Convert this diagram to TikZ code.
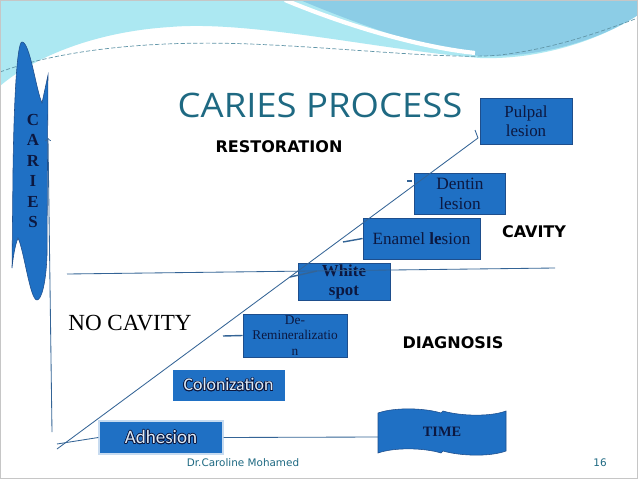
\documentclass[tikz,border=0pt]{standalone}
\usepackage{fontspec}
\setmainfont{Liberation Serif}
\newfontfamily\titlefont[FakeStretch=1.08]{Open Sans}
\newfontfamily\verdfont{DejaVu Sans}
\newfontfamily\calfont{Carlito}
\usepackage{xcolor}
\usepackage[copies]{contour}
\usetikzlibrary{calc}
\usetikzlibrary{positioning}

\definecolor{boxblue}{RGB}{31,112,196}
\definecolor{boxedge}{RGB}{30,78,140}
\definecolor{navy}{RGB}{12,24,64}
\definecolor{linecol}{RGB}{52,100,150}
\definecolor{titleteal}{RGB}{30,105,130}
\definecolor{cyanwash}{RGB}{172,232,242}
\definecolor{bluewash}{RGB}{140,205,230}

\tikzset{
	stagebox/.style={draw=boxedge,fill=boxblue,line width=0.6pt,text=navy,align=center,inner sep=0pt},
	lbl/.style={font=\verdfont\bfseries\fontsize{11.4}{13}\selectfont},
	conn/.style={draw=linecol,line width=0.6pt}
}
\contourlength{0.5pt}

\begin{document}
\begin{tikzpicture}[x=0.025cm,y=-0.025cm]
	\useasboundingbox (0,0) rectangle (638,479);
	\fill[white] (0,0) rectangle (638,479);
	\fill[cyanwash] (0,0) -- (638,0) -- (638,15) .. controls (600,40) and (540,60) .. (480,58) .. controls (380,50) and (250,20) .. (170,27) .. controls (90,32) and (30,60) .. (0,86) -- cycle;
	\fill[bluewash] (300,0) .. controls (360,25) and (430,50) .. (480,56) .. controls (540,58) and (600,40) .. (638,15) -- (638,0) -- cycle;
	\draw[white,line width=3pt] (285,0) .. controls (350,27) and (420,47) .. (475,53);
	\draw[titleteal!70,dash pattern=on 3pt off 1.5pt,line width=0.5pt] (0,72) .. controls (60,50) and (150,40) .. (250,44) .. controls (350,48) and (450,60) .. (500,55) .. controls (560,48) and (610,28) .. (638,18);
	\draw[gray!45,line width=1.2pt] (0.5,0.5) rectangle (637.5,478.5);

	\filldraw[fill=boxblue,draw=boxedge,line width=0.4pt] (22,42) .. controls (30,42) and (36,90) .. (42,103) -- (48,75) -- (47,255) .. controls (46,285) and (41,300) .. (37,300) .. controls (30,300) and (24,250) .. (18,238) .. controls (15,245) and (13,258) .. (12,268) -- (13,170) .. controls (14,100) and (17,42) .. (22,42) -- cycle;
	\node[font=\bfseries\fontsize{12}{14.6}\selectfont,text=navy,align=center] (caries) at (33,171) {C\\A\\R\\I\\E\\S};

	\coordinate (axb) at (52,432);
	\coordinate (axt) at (48,138);
	\draw[conn,->] (axb) -- (axt);

	\node[font=\titlefont\fontsize{24}{28}\selectfont,text=titleteal] (title) at (320,105) {CARIES PROCESS};

	\node[stagebox,minimum width=2.3cm,minimum height=1.15cm,font=\fontsize{12}{13.8}\selectfont] (pulpal) at (526,121) {Pulpal\\lesion};
	\node[stagebox,minimum width=2.275cm,minimum height=1.025cm,font=\fontsize{12.3}{13.8}\selectfont] (dentin) at (460,194) {Dentin\\lesion};
	\node[stagebox,minimum width=2.925cm,minimum height=1.025cm,font=\fontsize{12.2}{13.8}\selectfont] (enamel) at (421.5,238.5) {Enamel \textbf{le}sion};
	\node[stagebox,minimum width=2.3cm,minimum height=0.925cm,font=\bfseries\fontsize{12}{13.5}\selectfont] (white) at (344,281.5) {White\\spot};
	\node[stagebox,minimum width=2.6cm,minimum height=1.075cm,font=\fontsize{9.5}{11}\selectfont] (deremin) at (295,335.5) {De-\\Remineralizatio\\n};
	\node[stagebox,draw=boxblue,minimum width=2.775cm,minimum height=0.75cm,font=\calfont\fontsize{12.7}{14}\selectfont] (colon) at (228.5,385) {\contour{navy}{\textcolor{boxblue!15!white}{Colonization}}};
	\node[stagebox,draw=white!75!boxblue,line width=1pt,minimum width=3.1cm,minimum height=0.825cm,font=\calfont\fontsize{13.5}{15}\selectfont] (adhesion) at (161,437.5) {\contour{navy}{\textcolor{boxblue!15!white}{Adhesion}}};

	\filldraw[fill=boxblue,draw=boxedge,line width=0.4pt] (378,413) .. controls (395,407) and (425,408) .. (441,413) -- (443,411) .. controls (460,416) and (490,417) .. (506,411) -- (506,451) .. controls (490,457) and (460,456) .. (443,451) -- (441,453) .. controls (425,448) and (395,447) .. (378,453) -- cycle;
	\node[font=\bfseries\fontsize{10.2}{12}\selectfont,text=navy] (time) at (442,432) {TIME};

	\node[lbl] (restor) at (279,147) {RESTORATION};
	\node[lbl] (cavity) at (534,232) {CAVITY};
	\node[lbl] (diag) at (453,343) {DIAGNOSIS};
	\node[font=\fontsize{16.4}{18}\selectfont] (nocav) at (130,323) {NO CAVITY};
	\node[font=\verdfont\fontsize{7.4}{9}\selectfont,text=titleteal] (author) at (243,463) {Dr.Caroline Mohamed};
	\node[font=\verdfont\fontsize{7.4}{9}\selectfont,text=titleteal] (pnum) at (600,463) {16};

	\coordinate (d0) at (57,449);
	\coordinate (d1) at (478,138);
	\draw[conn] (d0) -- (d1);
	\coordinate (b0) at (57,444);
	\coordinate (t0) at (378,437);
	\draw[conn] (b0) -- (adhesion.west);
	\draw[conn] (adhesion.east) -- (t0);
	\coordinate (m0) at (67,274);
	\coordinate (m1) at (555,268);
	\draw[conn] (m0) -- (m1);

	\coordinate (ec) at (343,242);
	\draw[conn,line width=1pt] (ec) -- (enamel.west);
	\coordinate (dc0) at (407,181);
	\coordinate (dc1) at (412,181);
	\draw[conn,line width=1pt] (dc0) -- (dc1);
	\coordinate (pc0) at (475,130);
	\draw[conn] (pc0) -- (d1);
	\coordinate (rc) at (223,336);
	\draw[conn,line width=1pt] (rc) -- (deremin.west);
	\coordinate (wc0) at (290,277);
	\coordinate (wc1) at (317,271);
	\draw[conn,line width=1pt] (wc0) -- (wc1);
\end{tikzpicture}
\end{document}
